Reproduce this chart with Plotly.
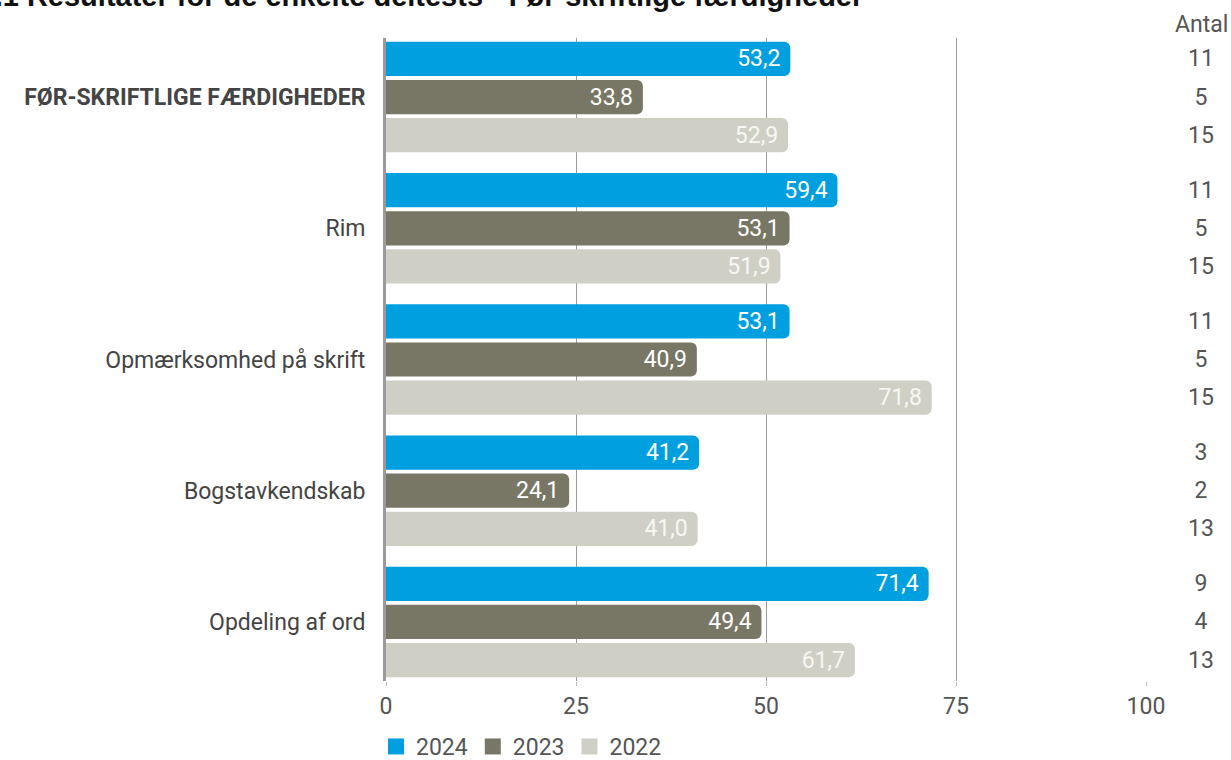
import plotly.graph_objects as go

categories = ["FØR-SKRIFTLIGE FÆRDIGHEDER", "Rim", "Opmærksomhed på skrift", "Bogstavkendskab", "Opdeling af ord"]
tick_labels = ["<b>FØR-SKRIFTLIGE FÆRDIGHEDER</b>", "Rim", "Opmærksomhed på skrift", "Bogstavkendskab", "Opdeling af ord"]
years = ["2024", "2023", "2022"]
values_2024 = [53.2, 59.4, 53.1, 41.2, 71.4]
values_2023 = [33.8, 53.1, 40.9, 24.1, 49.4]
values_2022 = [52.9, 51.9, 71.8, 41.0, 61.7]
antal_2024 = [11, 11, 11, 3, 9]
antal_2023 = [5, 5, 5, 2, 4]
antal_2022 = [15, 15, 15, 13, 13]
x_ticks = [0, 25, 50, 75, 100]

colors = ["#009FE0", "#787664", "#CFCFC6"]
text_colors = ["#ffffff", "#ffffff", "#f7f7f3"]
series = [values_2024, values_2023, values_2022]
antal = [antal_2024, antal_2023, antal_2022]

FONT = "Roboto"
FS = 23
PAD = "\u00a0"
fig = go.Figure()
for yr, vals, col, tc in zip(years, series, colors, text_colors):
    fig.add_trace(go.Bar(
        name=yr, y=categories, x=vals, orientation="h",
        marker=dict(color=col, line=dict(width=0)),
        text=[f"{v:.1f}".replace(".", ",") + PAD for v in vals],
        textposition="inside", insidetextanchor="end", constraintext="none",
        textfont=dict(color=tc, size=FS, family=FONT),
        xaxis="x", yaxis="y", hoverinfo="skip", showlegend=False,
    ))

for yr, cnt in zip(years, antal):
    fig.add_trace(go.Bar(
        name=yr + " antal", y=categories, x=[1] * len(cnt), orientation="h",
        marker=dict(color="rgba(0,0,0,0)", line=dict(width=0)),
        text=[str(c) for c in cnt], textposition="inside", insidetextanchor="middle",
        constraintext="none",
        textfont=dict(color="#555555", size=FS, family=FONT),
        xaxis="x2", yaxis="y", showlegend=False, hoverinfo="skip",
    ))

# legend entries
for yr, col in zip(years, colors):
    fig.add_trace(go.Scatter(
        x=[None], y=[None], mode="markers", name=yr,
        marker=dict(symbol="square", size=20, color=col),
        xaxis="x", yaxis="y", showlegend=True, hoverinfo="skip",
    ))

fig.update_layout(
    width=1231, height=760, autosize=False,
    margin=dict(l=386, r=0, t=38, b=79, autoexpand=False),
    barmode="group", bargap=0.13, bargroupgap=0.1, barcornerradius=6,
    plot_bgcolor="white", paper_bgcolor="white",
    font=dict(family=FONT, size=FS, color="#555555"),
    xaxis=dict(domain=[0, 760 / 845], range=[0, 100], tickvals=x_ticks,
               ticktext=[str(t) for t in x_ticks],
               showgrid=True, gridcolor="#9a9a9a", gridwidth=1,
               zeroline=False, showline=False,
               ticks="outside", ticklen=4, tickcolor="#bbbbbb",
               tickfont=dict(size=FS, color="#555555"), fixedrange=True),
    xaxis2=dict(domain=[790 / 845, 840 / 845], range=[0, 1], anchor="y",
                showgrid=False, showticklabels=False, zeroline=False, visible=False),
    yaxis=dict(categoryorder="array", categoryarray=categories,
               range=[4.45, -0.45], tickvals=categories, ticktext=tick_labels,
               showgrid=False, showline=True, linecolor="#9a9a9a", linewidth=3,
               ticks="", ticklabelstandoff=13,
               tickfont=dict(size=FS, color="#444444")),
    legend=dict(orientation="h", xref="container", yref="paper",
                x=376 / 1231, xanchor="left", y=-44 / 643, yanchor="top",
                font=dict(size=FS, color="#555555"), traceorder="normal",
                itemwidth=30, tracegroupgap=0, bgcolor="rgba(0,0,0,0)"),
    showlegend=True,
    annotations=[
        dict(text="Antal", xref="paper", yref="paper", x=815 / 845, xanchor="center",
             y=1 + 14 / 643, yanchor="middle", showarrow=False,
             font=dict(size=FS, color="#555555", family=FONT)),
        dict(text="<b>Figur 2.1 Resultater for de enkelte deltests - Før-skriftlige færdigheder</b>",
             xref="paper", yref="paper", x=(865 - 386) / 845, xanchor="right",
             y=1 + 24 / 643, yanchor="bottom", showarrow=False,
             font=dict(size=29, color="#111111", family="Liberation Sans")),
    ],
)

post = ("document.documentElement.style.margin='0';"
        "document.body.style.margin='0';document.body.style.overflow='hidden';")
fig.write_html("out.html", post_script=post,
               config={"responsive": False, "displayModeBar": False})
